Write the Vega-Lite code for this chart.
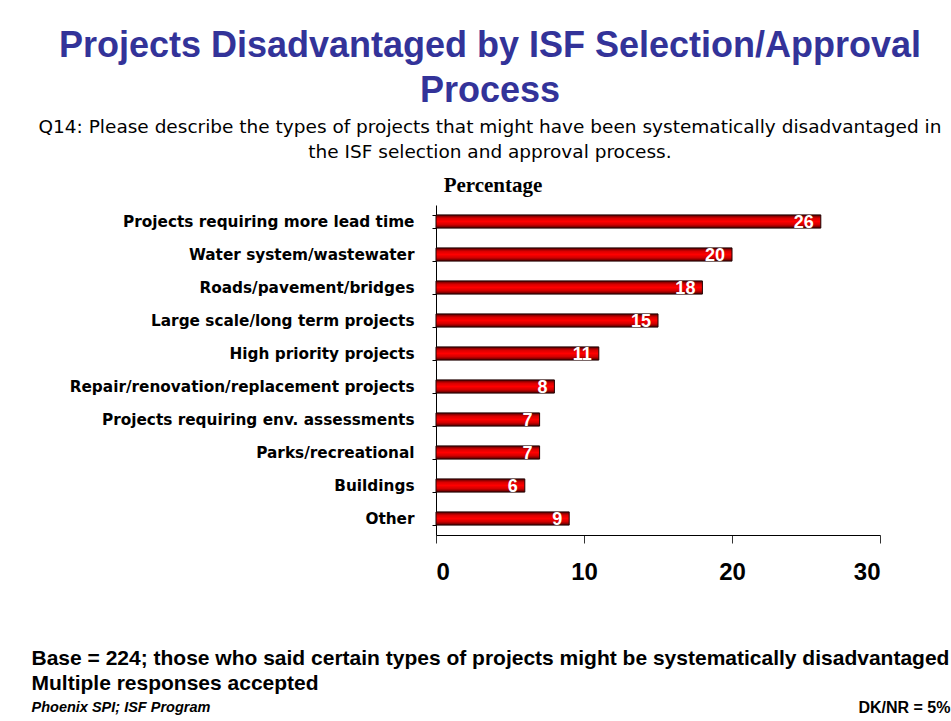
{
  "$schema": "https://vega.github.io/schema/vega-lite/v6.json",
  "width": 444,
  "height": 330,
  "autosize": {"type": "none"},
  "padding": {"left": 436, "top": 205, "right": 71, "bottom": 186},
  "background": "white",
  "title": {
    "text": ["Projects Disadvantaged by ISF Selection/Approval", "Process"],
    "subtitle": ["Q14: Please describe the types of projects that might have been systematically disadvantaged in", "the ISF selection and approval process."],
    "anchor": "middle",
    "frame": "group",
    "align": "center",
    "dx": -168,
    "font": "Liberation Sans",
    "fontSize": 36,
    "fontWeight": "bold",
    "color": "#333399",
    "lineHeight": 45,
    "subtitleFont": "DejaVu Sans",
    "subtitleFontSize": 18.5,
    "subtitleColor": "black",
    "subtitleLineHeight": 25,
    "subtitlePadding": 8,
    "offset": 12
  },
  "data": {
    "values": [
      {"category": "Projects requiring more lead time", "value": 26},
      {"category": "Water system/wastewater ", "value": 20},
      {"category": "Roads/pavement/bridges", "value": 18},
      {"category": "Large scale/long term projects", "value": 15},
      {"category": "High priority projects", "value": 11},
      {"category": "Repair/renovation/replacement projects", "value": 8},
      {"category": "Projects requiring env. assessments", "value": 7},
      {"category": "Parks/recreational ", "value": 7},
      {"category": "Buildings", "value": 6},
      {"category": "Other", "value": 9}
    ]
  },
  "layer": [
    {
      "mark": {
        "type": "bar",
        "fill": {
          "gradient": "linear",
          "x1": 0, "y1": 0, "x2": 0, "y2": 1,
          "stops": [
            {"offset": 0, "color": "#500000"},
            {"offset": 0.25, "color": "#d80000"},
            {"offset": 0.5, "color": "#ff0000"},
            {"offset": 0.75, "color": "#d00000"},
            {"offset": 1, "color": "#4a0000"}
          ]
        },
        "stroke": "#200000",
        "strokeWidth": 1
      },
      "encoding": {
        "y": {
          "field": "category",
          "type": "nominal",
          "sort": null,
          "scale": {"paddingInner": 0.6, "paddingOuter": 0.3},
          "axis": {
            "orient": "left",
            "title": "Percentage",
            "titleAngle": 0,
            "titleX": 56.5,
            "titleY": -20,
            "titleAlign": "center",
            "titleBaseline": "middle",
            "titleFont": "Liberation Serif",
            "titleFontSize": 21,
            "titleFontWeight": "bold",
            "titleColor": "black",
            "labelFont": "DejaVu Sans",
            "labelFontSize": 15.3,
            "labelFontWeight": "bold",
            "labelColor": "black",
            "labelPadding": 18,
            "labelLimit": 400,
            "tickSize": 4,
            "tickBand": "extent",
            "tickColor": "black",
            "domainColor": "black"
          }
        },
        "x": {
          "field": "value",
          "type": "quantitative",
          "scale": {"domain": [0, 30], "nice": false},
          "axis": {
            "orient": "bottom",
            "values": [0, 10, 20, 30],
            "grid": false,
            "labelFont": "Liberation Sans",
            "labelFontSize": 24,
            "labelFontWeight": "bold",
            "labelColor": "black",
            "labelBaseline": "middle",
            "labelPadding": 29,
            "tickSize": 8,
            "tickColor": "#333333",
            "domainColor": "black",
            "title": ["Base = 224; those who said certain types of projects might be systematically disadvantaged", "Multiple responses accepted"],
            "titleX": -405,
            "titleY": 112,
            "titleAlign": "left",
            "titleBaseline": "top",
            "titleFont": "Liberation Sans",
            "titleFontSize": 21,
            "titleFontWeight": "bold",
            "titleColor": "black",
            "titleLineHeight": 25
          }
        }
      }
    },
    {
      "mark": {
        "type": "text",
        "align": "right",
        "baseline": "middle",
        "dx": -7,
        "dy": 1,
        "color": "white",
        "font": "Liberation Sans",
        "fontSize": 18,
        "fontWeight": "bold"
      },
      "encoding": {
        "y": {"field": "category", "type": "nominal", "sort": null, "axis": null},
        "x": {"field": "value", "type": "quantitative", "axis": null},
        "text": {"field": "value", "type": "quantitative"}
      }
    },
    {
      "mark": {"type": "bar", "opacity": 0},
      "encoding": {
        "y": {
          "field": "category",
          "type": "nominal",
          "sort": null,
          "axis": {
            "orient": "right",
            "labels": false,
            "ticks": false,
            "domain": false,
            "title": "DK/NR = 5%",
            "titleAngle": 0,
            "titleX": 70,
            "titleY": 502,
            "titleAlign": "right",
            "titleBaseline": "middle",
            "titleFont": "Liberation Sans",
            "titleFontSize": 16,
            "titleFontWeight": "bold",
            "titleColor": "black"
          }
        },
        "x": {
          "field": "value",
          "type": "quantitative",
          "axis": {
            "orient": "top",
            "labels": false,
            "ticks": false,
            "domain": false,
            "grid": false,
            "title": "Phoenix SPI; ISF Program",
            "titleX": -405,
            "titleY": 502,
            "titleAlign": "left",
            "titleBaseline": "middle",
            "titleFont": "Liberation Sans",
            "titleFontSize": 14.5,
            "titleFontWeight": "bold",
            "titleFontStyle": "italic",
            "titleColor": "black"
          }
        }
      }
    }
  ],
  "resolve": {"axis": {"x": "independent", "y": "independent"}},
  "config": {"view": {"stroke": null}}
}
